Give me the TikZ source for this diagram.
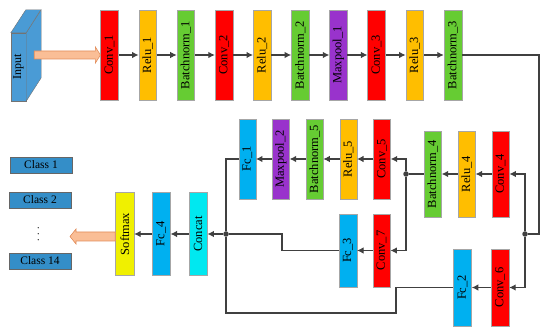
\documentclass[tikz,border=0pt]{standalone}
\usepackage{fontspec}
\setmainfont{Liberation Serif}
\usepackage{graphicx}
\usetikzlibrary{arrows.meta, positioning, calc}
\definecolor{convred}{RGB}{255,0,0}
\definecolor{reluorange}{RGB}{255,190,0}
\definecolor{bngreen}{RGB}{102,204,51}
\definecolor{poolpurple}{RGB}{153,51,204}
\definecolor{fcblue}{RGB}{0,176,240}
\definecolor{catcyan}{RGB}{0,232,240}
\definecolor{softyellow}{RGB}{240,240,0}
\definecolor{inblue}{RGB}{74,155,213}
\definecolor{clsblue}{RGB}{52,142,200}
\definecolor{linegray}{RGB}{64,64,64}
\definecolor{fatfill}{RGB}{250,190,150}
\definecolor{fatedge}{RGB}{225,140,90}

\begin{document}
\begin{tikzpicture}[x=1pt, y=1pt,
    layer/.style={rectangle, draw=black!35, inner sep=0pt, minimum width=17.75pt, font=\fontsize{12.5}{14}\selectfont},
    conv/.style={layer, fill=convred},
    relu/.style={layer, fill=reluorange},
    bnorm/.style={layer, fill=bngreen},
    pool/.style={layer, fill=poolpurple},
    fc/.style={layer, fill=fcblue},
    cat/.style={layer, fill=catcyan},
    soft/.style={layer, fill=softyellow},
    toprow/.style={minimum height=90pt},
    midrow/.style={minimum height=80pt, minimum width=17pt},
    cls/.style={rectangle, draw=black!60, fill=clsblue, minimum width=62pt, minimum height=16pt, inner sep=0pt, font=\fontsize{11.5}{13}\selectfont},
    flow/.style={-{Latex[length=6.5pt,width=6.5pt]}, line width=1.1pt, draw=linegray},
    wire/.style={line width=1.1pt, draw=linegray},
    dot/.style={circle, fill=linegray, inner sep=0pt, minimum size=5.5pt},
    fatarrow/.style={draw=fatedge, fill=fatfill, line width=0.6pt}
]
    \useasboundingbox (0,0) rectangle (550,-334);

    \node [rectangle, draw=black!55, fill=inblue, minimum width=15pt, minimum height=68pt, inner sep=0pt, font=\fontsize{12}{14}\selectfont] (input) at (18.5,-67) {\rotatebox{90}{Input}};
    \draw [draw=black!55, fill=inblue] (input.north east) -- ++(15,23) -- ++(0,-68) -- (input.south east) -- cycle;
    \draw [draw=black!55, fill=inblue] (input.north west) -- ++(15,23) -- ++(15,0) -- (input.north east) -- cycle;

    \node [conv, toprow] (conv1) at (109.5,-55) {\rotatebox{90}{Conv\_1}};
    \node [relu, toprow, right=20pt of conv1] (relu1) {\rotatebox{90}{Relu\_1}};
    \node [bnorm, toprow, right=20pt of relu1] (bnorm1) {\rotatebox{90}{Batchnorm\_1}};
    \node [conv, toprow, right=20pt of bnorm1] (conv2) {\rotatebox{90}{Conv\_2}};
    \node [relu, toprow, right=20pt of conv2] (relu2) {\rotatebox{90}{Relu\_2}};
    \node [bnorm, toprow, right=20pt of relu2] (bnorm2) {\rotatebox{90}{Batchnorm\_2}};
    \node [pool, toprow, right=20pt of bnorm2] (pool1) {\rotatebox{90}{Maxpool\_1}};
    \node [conv, toprow, right=20pt of pool1] (conv3) {\rotatebox{90}{Conv\_3}};
    \node [relu, toprow, right=20pt of conv3] (relu3) {\rotatebox{90}{Relu\_3}};
    \node [bnorm, toprow, right=20pt of relu3] (bnorm3) {\rotatebox{90}{Batchnorm\_3}};

    \node [conv, minimum height=86pt, minimum width=17.5pt] (conv4) at (500.5,-174) {\rotatebox{90}{Conv\_4}};
    \node [relu, minimum height=86pt, minimum width=17.5pt, left=16pt of conv4] (relu4) {\rotatebox{90}{Relu\_4}};
    \node [bnorm, minimum height=86pt, minimum width=17.5pt, left=16pt of relu4] (bnorm4) {\rotatebox{90}{Batchnorm\_4}};

    \node [conv, midrow] (conv5) at (382,-159) {\rotatebox{90}{Conv\_5}};
    \node [relu, midrow, left=16.3pt of conv5] (relu5) {\rotatebox{90}{Relu\_5}};
    \node [bnorm, midrow, left=16.3pt of relu5] (bnorm5) {\rotatebox{90}{Batchnorm\_5}};
    \node [pool, midrow, left=16.3pt of bnorm5] (pool2) {\rotatebox{90}{Maxpool\_2}};
    \node [fc, midrow, left=16.3pt of pool2] (fc1) {\rotatebox{90}{Fc\_1}};

    \node [conv, minimum height=73pt, minimum width=17.5pt] (conv7) at (381.5,-250.5) {\rotatebox{90}{Conv\_7}};
    \node [fc, minimum height=73pt, minimum width=18pt, left=15.5pt of conv7] (fc3) {\rotatebox{90}{Fc\_3}};

    \node [conv, minimum height=77pt, minimum width=18pt] (conv6) at (500,-287.5) {\rotatebox{90}{Conv\_6}};
    \node [fc, minimum height=77pt, minimum width=18pt, left=19pt of conv6] (fc2) {\rotatebox{90}{Fc\_2}};

    \node [cat, minimum height=83pt, minimum width=18.5pt] (concat) at (198,-234) {\rotatebox{90}{Concat}};
    \node [fc, minimum height=83pt, minimum width=18.5pt, left=18pt of concat] (fc4) {\rotatebox{90}{Fc\_4}};
    \node [soft, minimum height=83pt, minimum width=18.5pt, left=17.5pt of fc4] (softmax) {\rotatebox{90}{Softmax}};

    \node [cls] (class1) at (41,-165) {Class 1};
    \node [cls] (class2) at (40,-200) {Class 2};
    \node [font=\fontsize{10.5}{12}\selectfont, inner sep=0pt] (dots) at (38.5,-234.5) {\rotatebox{90}{. . .}};
    \node [cls] (class14) at (40,-261) {Class 14};

    \node [dot] (j1) at (525,-234) {};
    \node [dot] (j2) at (406,-174) {};
    \node [dot] (j3) at (226,-234) {};
    \coordinate (bend1) at (539,-234);
    \coordinate (bend2) at (282,-234);
    \coordinate (bend3) at (396,-313);
    \coordinate (outtip) at (70,-236.5);

    \draw [fatarrow] ($(input.east |- conv1.west)+(8,4)$) -- ($(conv1.west)+(-5,4)$) -- ($(conv1.west)+(-5,8)$) -- (conv1.west) -- ($(conv1.west)+(-5,-8)$) -- ($(conv1.west)+(-5,-4)$) -- ($(input.east |- conv1.west)+(8,-4)$) -- cycle;
    \draw [fatarrow] (softmax.west |- 0,-232) -- ($(outtip)+(6,4.5)$) -- ($(outtip)+(6,7.5)$) -- (outtip) -- ($(outtip)+(6,-7.5)$) -- ($(outtip)+(6,-4.5)$) -- (softmax.west |- 0,-241) -- cycle;

    \draw [flow] (conv1) -- (relu1);
    \draw [flow] (relu1) -- (bnorm1);
    \draw [flow] (bnorm1) -- (conv2);
    \draw [flow] (conv2) -- (relu2);
    \draw [flow] (relu2) -- (bnorm2);
    \draw [flow] (bnorm2) -- (pool1);
    \draw [flow] (pool1) -- (conv3);
    \draw [flow] (conv3) -- (relu3);
    \draw [flow] (relu3) -- (bnorm3);
    \draw [wire] (bnorm3) -| (bend1) -- (j1);

    \draw [flow] (j1) |- (conv4);
    \draw [flow] (j1) |- (conv6);
    \draw [flow] (conv4) -- (relu4);
    \draw [flow] (relu4) -- (bnorm4);
    \draw [wire] (bnorm4) -- (j2);
    \draw [flow] (j2) |- (conv5);
    \draw [flow] (j2) |- (conv7);

    \draw [flow] (conv5) -- (relu5);
    \draw [flow] (relu5) -- (bnorm5);
    \draw [flow] (bnorm5) -- (pool2);
    \draw [flow] (pool2) -- (fc1);
    \draw [wire] (fc1) -| (j3);

    \draw [flow] (conv7) -- (fc3);
    \draw [wire] (fc3) -| (bend2) -- (j3);
    \draw [flow] (conv6) -- (fc2);
    \draw [wire] (fc2) -| (bend3) -| (j3);

    \draw [flow] (j3) -- (concat);
    \draw [flow] (concat) -- (fc4);
    \draw [flow] (fc4) -- (softmax);
\end{tikzpicture}
\end{document}
